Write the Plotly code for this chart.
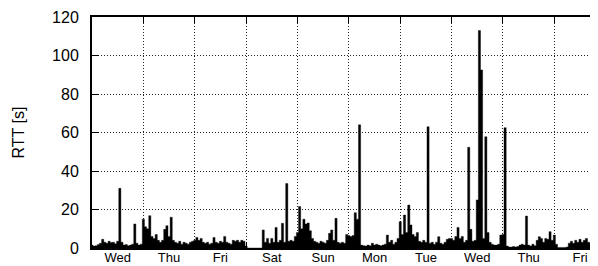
import plotly.graph_objects as go

# hourly RTT values [s], starting Wednesday 00:00
wed1 = [1.5, 1.0, 1.2, 1.8, 2.5, 4.5, 3.0, 2.5, 3.5, 2.8, 3.0, 2.2,
        3.5, 31, 3.0, 1.5, 1.8, 1.2, 1.5, 2.0, 12.5, 2.5, 1.5, 2.0]
thu1 = [15, 11, 10, 16.8, 6, 5, 7, 4, 3, 4, 9.7, 11.6,
        6, 16, 4, 3, 2.5, 3.5, 2, 3, 2.5, 2, 3, 3.5]
fri1 = [4, 5.5, 4, 5, 3, 2.5, 3, 2, 2.5, 5.5, 3, 2.5,
        3.5, 3, 6, 3, 2.5, 2, 4, 3.5, 4, 3, 4, 3.5]
sat = [1.0, 0, 0, 0, 0, 0, 0, 0, 9.4, 3, 5, 2.5,
       5, 3, 10.7, 3, 4, 12.8, 3, 33.5, 3.5, 4, 3.5, 6]
sun = [8, 21.5, 10, 15, 12.5, 13, 9, 5, 3.5, 3, 2.5, 3.5,
       3, 2.5, 4, 7.6, 9.4, 4, 15.4, 3, 2.5, 3, 2.5, 7]
mon = [6.5, 6, 6.5, 18.3, 15, 64, 1.5, 1.2, 1.0, 1.5, 1.2, 2.5,
       1.5, 2, 1.5, 1.2, 1.5, 2, 6.7, 3, 4, 2, 3, 5]
tue = [13.7, 7, 17.1, 8, 22.3, 12, 7, 6, 8, 3.5, 3, 4,
       3, 63, 2.5, 3, 2, 3, 5.9, 2.5, 2, 3, 4.5, 5]
wed2 = [5, 4, 6, 10.7, 5, 6, 3, 4, 52.3, 9.7, 3.5, 4,
        25, 113, 92.5, 5, 57.8, 8, 3, 2, 1.5, 1.5, 2, 6.7]
thu2 = [7, 62.5, 1, 0.5, 0.5, 0.8, 0.5, 0.8, 1.5, 2, 1.5, 16.6,
        1.5, 1, 2, 1.2, 4, 5.9, 5, 3, 5, 4.5, 8.5, 4]
fri2 = [6.7, 2, 0.3, 0.3, 0.3, 0.3, 0.5, 2.5, 3.5, 2.5, 4, 3,
        4.5, 3, 4, 5, 3, 2.5, 4, 3, 3.5]

rtt = wed1 + thu1 + fri1 + sat + sun + mon + tue + wed2 + thu2 + fri2
hours = list(range(len(rtt)))

day_labels = ["Wed", "Thu", "Fri", "Sat", "Sun", "Mon", "Tue", "Wed", "Thu", "Fri"]
day_centers = [12 + 24 * i for i in range(len(day_labels))]
day_bounds = [24 * i for i in range(1, len(day_labels))]
y_ticks = [0, 20, 40, 60, 80, 100, 120]

x_max = 236.4

fig = go.Figure()
fig.add_trace(go.Scatter(
    x=hours, y=rtt, mode="lines", line=dict(color="black", width=0.4, shape="hvh"),
    fill="tozeroy", fillcolor="black", hoverinfo="skip", showlegend=False,
))
fig.add_trace(go.Scatter(
    x=[0], y=[0], xaxis="x2", mode="markers", marker=dict(opacity=0),
    hoverinfo="skip", showlegend=False,
))

font_family = "Liberation Sans, Arial, sans-serif"
# the page body adds an 8px offset, so the figure is 8px smaller on each axis
fig.update_layout(
    width=590, height=258,
    margin=dict(l=83.6, r=0, t=9, b=18, autoexpand=False),
    paper_bgcolor="white", plot_bgcolor="white",
    font=dict(family=font_family, color="black"),
    xaxis=dict(
        range=[0, x_max], tickmode="array", tickvals=day_bounds,
        showticklabels=False, ticks="inside", ticklen=6, tickwidth=1.2, tickcolor="black",
        showgrid=True, gridcolor="#222", gridwidth=1, griddash="1px,2px",
        showline=True, linecolor="black", linewidth=2, mirror="ticks",
        zeroline=False,
    ),
    xaxis2=dict(
        range=[0, x_max], overlaying="x", anchor="y", side="bottom",
        tickmode="array", tickvals=day_centers, ticktext=day_labels,
        ticks="", showgrid=False, showline=False, zeroline=False,
        tickfont=dict(size=13, family=font_family, color="black"),
    ),
    yaxis=dict(
        range=[0, 120], tickmode="array", tickvals=y_ticks,
        ticks="inside", ticklen=7, tickwidth=1.2, tickcolor="black",
        showgrid=True, gridcolor="#222", gridwidth=1, griddash="1px,2px",
        showline=True, linecolor="black", linewidth=2, mirror=False,
        zeroline=False, ticklabelstandoff=8,
        tickfont=dict(size=16, family=font_family, color="black"),
        title=dict(text="RTT [s]", font=dict(size=16, family=font_family, color="black"), standoff=23),
    ),
)

fig.write_html("out.html")
